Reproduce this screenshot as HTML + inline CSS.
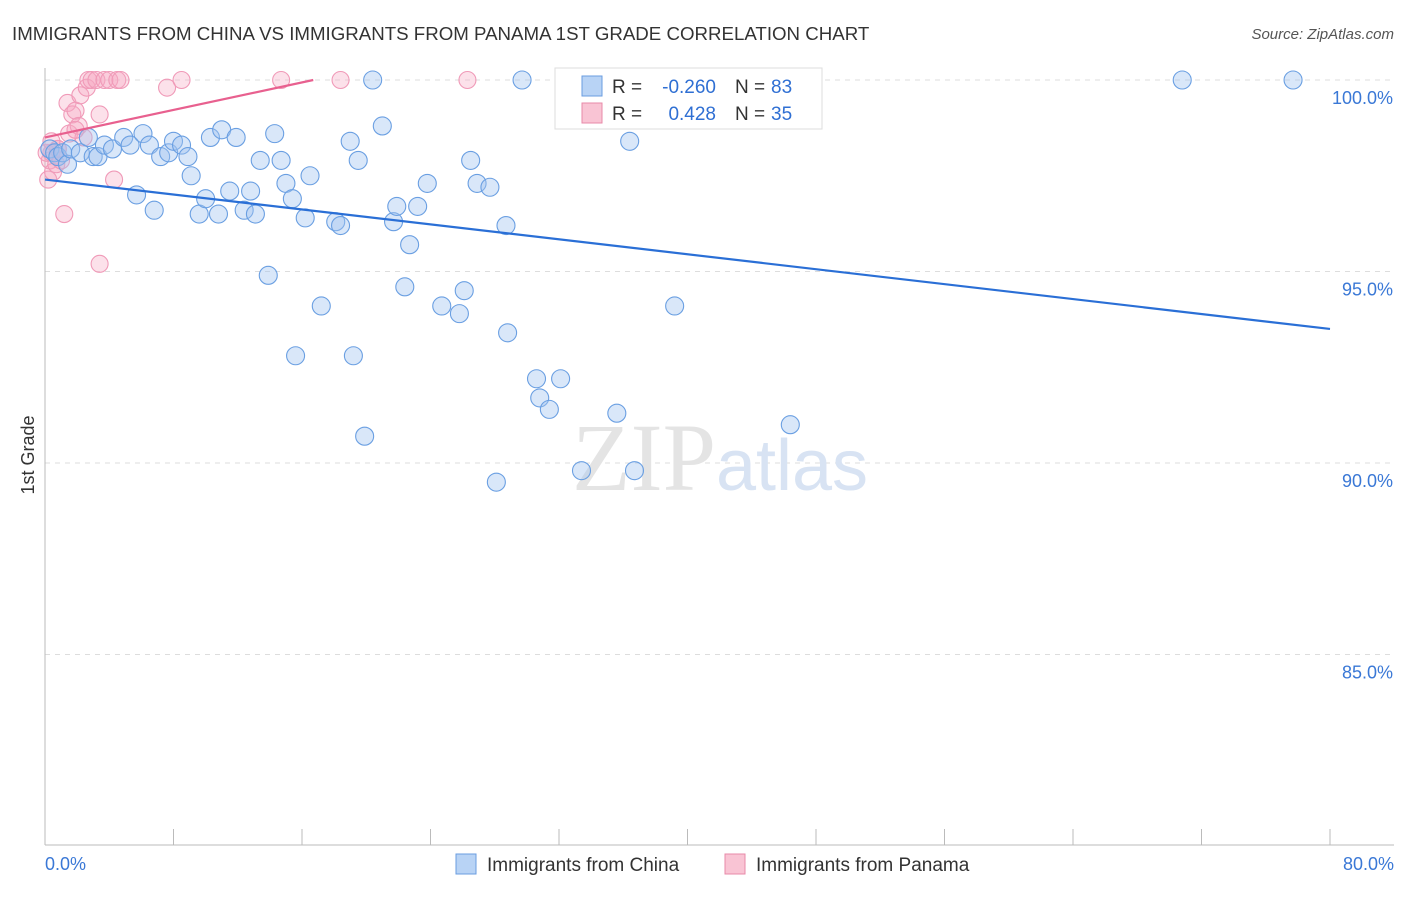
<!DOCTYPE html>
<html><head><meta charset="utf-8"><style>
body{margin:0;background:#fff;font-family:"Liberation Sans",sans-serif}
</style></head><body>
<svg width="1406" height="892" viewBox="0 0 1406 892">
<text x="12" y="40" font-size="18.7" fill="#333">IMMIGRANTS FROM CHINA VS IMMIGRANTS FROM PANAMA 1ST GRADE CORRELATION CHART</text>
<text x="1394" y="39" font-size="15" fill="#555" font-style="italic" text-anchor="end">Source: ZipAtlas.com</text>
<g id="grid"></g>
<text x="720" y="490" font-size="96" text-anchor="middle" fill="#e4e4e4" font-family="Liberation Serif">ZIP<tspan fill="#d8e3f3" font-family="Liberation Sans" font-size="72">atlas</tspan></text>
<g id="pts"></g>
<g id="lines"></g>
<text x="34" y="455" font-size="18" fill="#333" transform="rotate(-90 34 455)" text-anchor="middle">1st Grade</text>
<g>
<rect x="555" y="68" width="267" height="61" fill="#fff" stroke="#ddd"/>
<rect x="582" y="76" width="20" height="20" fill="#b8d3f5" stroke="#6a9de0"/>
<rect x="582" y="103" width="20" height="20" fill="#f9c4d4" stroke="#e88aa8"/>
<text x="612" y="93" font-size="19" fill="#333">R =</text>
<text x="716" y="93" font-size="19" fill="#2f6fd3" text-anchor="end">-0.260</text>
<text x="735" y="93" font-size="19" fill="#333">N =</text>
<text x="771" y="93" font-size="19" fill="#2f6fd3">83</text>
<text x="612" y="120" font-size="19" fill="#333">R =</text>
<text x="716" y="120" font-size="19" fill="#2f6fd3" text-anchor="end">0.428</text>
<text x="735" y="120" font-size="19" fill="#333">N =</text>
<text x="771" y="120" font-size="19" fill="#2f6fd3">35</text>
</g>
<g>
<rect x="456" y="854" width="20" height="20" fill="#b8d3f5" stroke="#6a9de0"/>
<text x="487" y="871" font-size="19" fill="#333">Immigrants from China</text>
<rect x="725" y="854" width="20" height="20" fill="#f9c4d4" stroke="#e88aa8"/>
<text x="756" y="871" font-size="19" fill="#333">Immigrants from Panama</text>
</g>
</svg>
<script>
const yTicks=[100,95,90,85];
const yTickLabels=["100.0%","95.0%","90.0%","85.0%"];
const xTickLabels=["0.0%","80.0%"];
const chinaX=[0.3,0.6,0.8,1.1,1.4,1.6,2.2,2.7,3.0,3.3,3.7,4.2,4.9,5.3,5.7,6.1,6.5,6.8,7.2,7.7,8.0,8.5,8.9,9.1,9.6,10.0,10.3,10.8,11.0,11.5,11.9,12.4,12.8,13.1,13.4,13.9,14.3,14.7,15.0,15.4,15.6,16.2,16.5,17.2,18.1,18.4,19.0,19.2,19.5,19.9,20.4,21.0,21.7,21.9,22.4,22.7,23.2,23.8,24.7,25.8,26.1,26.5,26.9,27.7,28.1,28.7,28.8,29.7,30.6,30.8,31.4,32.1,33.0,33.4,34.6,35.6,36.4,36.7,39.2,40.8,46.4,70.8,77.7];
const chinaY=[98.2,98.1,98.0,98.1,97.8,98.2,98.1,98.5,98.0,98.0,98.3,98.2,98.5,98.3,97.0,98.6,98.3,96.6,98.0,98.1,98.4,98.3,98.0,97.5,96.5,96.9,98.5,96.5,98.7,97.1,98.5,96.6,97.1,96.5,97.9,94.9,98.6,97.9,97.3,96.9,92.8,96.4,97.5,94.1,96.3,96.2,98.4,92.8,97.9,90.7,100.0,98.8,96.3,96.7,94.6,95.7,96.7,97.3,94.1,93.9,94.5,97.9,97.3,97.2,89.5,96.2,93.4,100.0,92.2,91.7,91.4,92.2,100.0,89.8,99.8,91.3,98.4,89.8,94.1,100.0,91.0,100.0,100.0];
const panamaX=[0.2,0.3,0.4,0.5,0.7,0.8,1.0,1.2,1.4,1.5,1.7,1.9,2.1,2.2,2.4,2.6,2.7,2.9,3.2,3.4,3.7,4.0,4.3,4.5,4.7,3.4,7.6,8.5,14.7,18.4,26.3,0.8,0.1,1.9,0.4];
const panamaY=[97.4,97.9,98.1,97.6,97.8,98.2,97.9,96.5,99.4,98.6,99.1,99.2,98.8,99.6,98.5,99.8,100.0,100.0,100.0,99.1,100.0,100.0,97.4,100.0,100.0,95.2,99.8,100.0,100.0,100.0,100.0,98.2,98.1,98.7,98.4];
const chinaTrend=[[0,97.4],[80,93.5]];
const panamaTrend=[[0,98.5],[16.7,100]];
const X=v=>45+v/80*1285, Y=v=>80+(100-v)*38.3;
const NS="http://www.w3.org/2000/svg";
function mk(t,a,p){const e=document.createElementNS(NS,t);for(const k in a)e.setAttribute(k,a[k]);p.appendChild(e);return e;}
const g=document.getElementById('grid');
yTicks.forEach((t,i)=>{
 const l=mk('line',{x1:45,x2:1394,y1:Y(t),y2:Y(t),stroke:'#ddd','stroke-dasharray':'5,5'},g);
 
 
 const tx=mk('text',{x:1393,y:Y(t)+24,'font-size':18,fill:'#3a78d6','text-anchor':'end'},g);
 tx.textContent=yTickLabels[i];
 
 
});
const ax=mk('line',{x1:45,x2:45,y1:68,y2:845,stroke:'#bbb'},g);


const bx=mk('line',{x1:45,x2:1394,y1:845,y2:845,stroke:'#bbb'},g);


for(let i=0;i<=10;i++){const t=mk('line',{x1:X(i*8),x2:X(i*8),y1:829,y2:845,stroke:'#bbb'},g);
 
 }
[[0,45,'start'],[80,1394,'end']].forEach((d,i)=>{const t=mk('text',{x:d[1],y:870,'font-size':18,fill:'#3a78d6','text-anchor':d[2]},g);t.textContent=xTickLabels[i];
 
 });
const p=document.getElementById('pts');
panamaX.forEach((x,i)=>{const c=mk('circle',{cx:X(x),cy:Y(panamaY[i]),r:8.5,fill:'rgba(246,170,195,0.35)',stroke:'#f09ab8','stroke-width':1.1},p);
 
 });
chinaX.forEach((x,i)=>{const c=mk('circle',{cx:X(x),cy:Y(chinaY[i]),r:9,fill:'rgba(160,195,240,0.4)',stroke:'#6a9fe2','stroke-width':1.1},p);
 
 });
const L=document.getElementById('lines');
const a=mk('line',{x1:X(chinaTrend[0][0]),y1:Y(chinaTrend[0][1]),x2:X(chinaTrend[1][0]),y2:Y(chinaTrend[1][1]),stroke:'#2a6fd6','stroke-width':2.2},L);


const b=mk('line',{x1:X(panamaTrend[0][0]),y1:Y(panamaTrend[0][1]),x2:X(panamaTrend[1][0]),y2:Y(panamaTrend[1][1]),stroke:'#e8608f','stroke-width':2.2},L);


</script>
</body></html>
